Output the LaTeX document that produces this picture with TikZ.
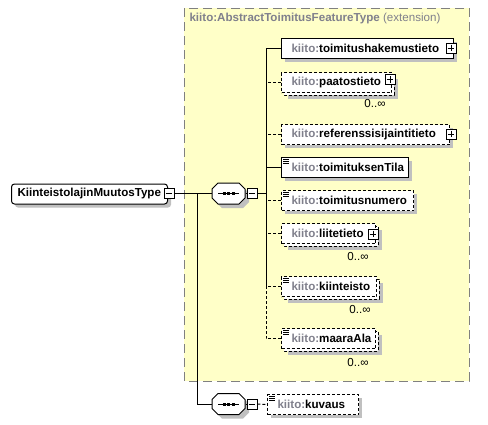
\documentclass[tikz,border=0pt]{standalone}
\usepackage{fontspec}
\setmainfont{Liberation Sans}
\usetikzlibrary{calc}
\definecolor{bgY}{RGB}{255,255,200}
\definecolor{shd}{RGB}{192,192,192}
\definecolor{pregray}{RGB}{128,128,140}
\definecolor{framegray}{RGB}{128,128,128}
\newcommand{\kp}[1]{{\color{pregray}kiito:}#1}
\newcommand{\octa}[3]{\filldraw[#3] (#1-16.5,#2-4.5) -- (#1-10.5,#2-10.5) -- (#1+10.5,#2-10.5) -- (#1+16.5,#2-4.5) -- (#1+16.5,#2+4.5) -- (#1+10.5,#2+10.5) -- (#1-10.5,#2+10.5) -- (#1-16.5,#2+4.5) -- cycle;}
\newcommand{\eicon}[2]{\draw[line width=0.9pt] (#1+2,#2+2.5) -- +(6,0) (#1+2,#2+4.5) -- +(6,0) (#1+2,#2+6.5) -- +(6,0);}
\newcommand{\sshadow}[3]{\fill[shd] (#1+4,#2+4) rectangle +(#3,20);}
\newcommand{\mshadow}[3]{\fill[shd] (#1+7,#2+7) rectangle +(#3,20);
  \draw[fill=white,dash pattern=on 3pt off 2pt] (#1+3,#2+3) rectangle +(#3,20);}
\begin{document}
\begin{tikzpicture}[x=1pt,y=-1pt,line width=1pt,
  font=\fontsize{11.6}{13}\selectfont\bfseries,
  box/.style={draw=black,fill=white,minimum height=20pt,anchor=north west,inner sep=0pt},
  optbox/.style={box,dash pattern=on 3pt off 2pt},
  odash/.style={dash pattern=on 3pt off 2pt},
  lbl/.style={anchor=west,inner sep=0pt},
  pm/.style={draw=black,fill=white,minimum size=10pt,inner sep=0pt,solid,line width=0.9pt},
  hid/.style={minimum width=33pt,minimum height=21pt,inner sep=0pt},
  mult/.style={font=\fontsize{11.6}{13}\selectfont,inner sep=0pt}]
\useasboundingbox (0,0) rectangle (488,424);
\fill[white] (0,0) rectangle (488,424);
% extension frame
\draw[framegray,fill=bgY,dash pattern=on 9pt off 5pt] (184,8) rectangle (469,381);
\node[lbl,text=pregray] (title) at (189,18) {kiito:AbstractToimitusFeatureType \mdseries(extension)};
% root
\fill[shd,rounded corners=3pt] (15,187.5) rectangle (171,207.5);
\node[box,rounded corners=3pt,minimum width=156pt] (root) at (11,183.5) {};
\node[lbl] (rootl) at (17,193.5) {KiinteistolajinMuutosType};
\node[pm] (m0) at (169,193.5) {};
\draw[line width=0.9pt] ([xshift=2pt]m0.west) -- ([xshift=-2pt]m0.east);
% compositor 1
\octa{232.5}{197.5}{shd,draw=none}
\octa{228.5}{193.5}{fill=white,draw=black}
\node[hid] (c1) at (228.5,193.5) {};
\draw (218,193.5) -- (239,193.5);
\foreach \dx in {-4.5,0,4.5} \fill (228.5+\dx-1.5,192) rectangle +(3,3);
\node[pm] (m1) at (252,193.5) {};
\draw[line width=0.9pt] ([xshift=2pt]m1.west) -- ([xshift=-2pt]m1.east);
% compositor 2
\octa{232.5}{408}{shd,draw=none}
\octa{228.5}{404}{fill=white,draw=black}
\node[hid] (c2) at (228.5,404) {};
\draw (218,404) -- (239,404);
\foreach \dx in {-4.5,0,4.5} \fill (228.5+\dx-1.5,402.5) rectangle +(3,3);
\node[pm] (m2) at (252,404) {};
\draw[line width=0.9pt] ([xshift=2pt]m2.west) -- ([xshift=-2pt]m2.east);
% elements
\sshadow{281}{38}{172}
\node[box,minimum width=172pt] (e1) at (281,38) {};
\node[lbl] (t1) at (291,48) {\kp{toimitushakemustieto}};
\mshadow{281}{72}{110}
\node[optbox,minimum width=110pt] (e2) at (281,72) {};
\node[lbl] (t2) at (291,82) {\kp{paatostieto}};
\node[mult] (n2) at (375,104) {0..∞};
\sshadow{281}{124}{168}
\node[optbox,minimum width=168pt] (e3) at (281,124) {};
\node[lbl] (t3) at (291,134) {\kp{referenssisijaintitieto}};
\sshadow{281}{157}{127}
\node[box,minimum width=127pt] (e4) at (281,157) {};
\eicon{281}{157}
\node[lbl] (t4) at (291,167) {\kp{toimituksenTila}};
\sshadow{281}{190}{132}
\node[optbox,minimum width=132pt] (e5) at (281,190) {};
\eicon{281}{190}
\node[lbl] (t5) at (291,200) {\kp{toimitusnumero}};
\mshadow{281}{223}{94}
\node[optbox,minimum width=94pt] (e6) at (281,223) {};
\node[lbl] (t6) at (291,233) {\kp{liitetieto}};
\node[mult] (n6) at (358,257) {0..∞};
\mshadow{281}{276}{95}
\node[optbox,minimum width=95pt] (e7) at (281,276) {};
\eicon{281}{276}
\node[lbl] (t7) at (291,286) {\kp{kiinteisto}};
\node[mult] (n7) at (360,310) {0..∞};
\mshadow{281}{328}{94}
\node[optbox,minimum width=94pt] (e8) at (281,328) {};
\eicon{281}{328}
\node[lbl] (t8) at (291,338) {\kp{maaraAla}};
\node[mult] (n8) at (358,363) {0..∞};
\sshadow{267}{394}{91}
\node[optbox,minimum width=91pt] (k) at (267,394) {};
\eicon{267}{394}
\node[lbl] (tk) at (277,404) {\kp{kuvaus}};
% plus boxes
\foreach \n/\px/\py in {p1/451/48,p2/390/79.5,p3/451/134,p6/373/234} {
  \node[pm] (\n) at (\px,\py) {};
  \draw[line width=0.9pt] ([xshift=2pt]\n.west) -- ([xshift=-2pt]\n.east)
    ([yshift=-2pt]\n.north) -- ([yshift=2pt]\n.south);
}
% connectors
\coordinate (sp) at (266,193.5);
\coordinate (br) at (197,193.5);
\draw (m0.east) -- (c1.west);
\draw (c1.east) -- (m1.west);
\draw (m1.east) -- (sp);
\draw (e1.west) -| (sp);
\draw (e4.west) -| (sp);
\draw[odash] (e2.west) -| (sp);
\draw[odash] (e3.west) -| (sp);
\draw[odash] (e5.west) -| (sp);
\draw[odash] (e6.west) -| (sp);
\draw[odash] (e7.west) -| (sp);
\draw[odash] (e8.west) -| (sp);
\draw (br) |- (c2.west);
\draw (c2.east) -- (m2.west);
\draw[odash] (m2.east) -- (k.west);
\end{tikzpicture}
\end{document}
